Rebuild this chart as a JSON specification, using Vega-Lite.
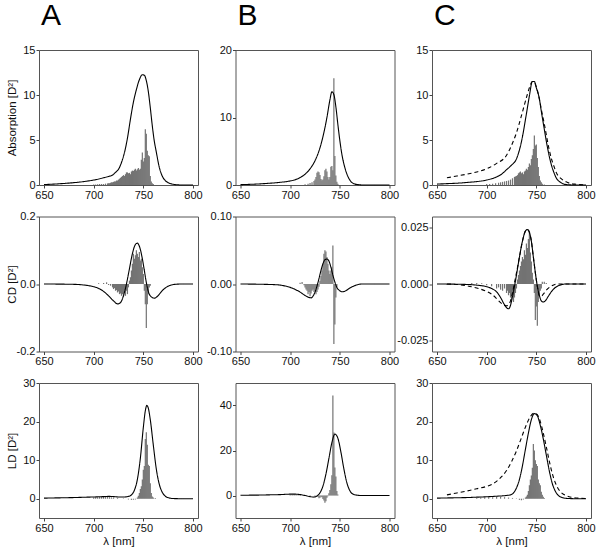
{
  "$schema": "https://vega.github.io/schema/vega-lite/v6.json",
  "background": "white",
  "padding": {"left": 5, "right": 5, "top": 0, "bottom": 0},
  "columns": 3,
  "bounds": "flush",
  "spacing": {"row": 31.5, "column": 37.5},
  "config": {
    "font": "Liberation Sans",
    "view": {"stroke": "#555", "strokeWidth": 1},
    "axis": {"grid": false, "domain": false, "ticks": true, "tickSize": 3, "tickColor": "#444", "labelFontSize": 11, "labelColor": "#111", "labelPadding": 1, "titleFontSize": 11.5, "titleFontWeight": "normal", "titleColor": "#111", "titlePadding": 2},
    "line": {"interpolate": "monotone", "color": "black", "strokeWidth": 1.1},
    "bar": {"color": "#737373", "size": 1.2},
    "title": {"fontSize": 30, "fontWeight": "normal", "anchor": "start", "frame": "group", "offset": 13, "baseline": "alphabetic", "dx": 2, "color": "black"}
  },
  "datasets": {
    "lines": [
      {"p":"A1","s":"calc","x":650,"y":0.05},{"p":"A1","s":"calc","x":660,"y":0.1},{"p":"A1","s":"calc","x":670,"y":0.17},{"p":"A1","s":"calc","x":680,"y":0.26},{"p":"A1","s":"calc","x":690,"y":0.38},{"p":"A1","s":"calc","x":700,"y":0.55},{"p":"A1","s":"calc","x":710,"y":0.8},{"p":"A1","s":"calc","x":715,"y":0.95},{"p":"A1","s":"calc","x":719,"y":1.1},{"p":"A1","s":"calc","x":722,"y":1.4},{"p":"A1","s":"calc","x":725,"y":1.75},{"p":"A1","s":"calc","x":728,"y":2.5},{"p":"A1","s":"calc","x":731,"y":3.6},{"p":"A1","s":"calc","x":734,"y":5.2},{"p":"A1","s":"calc","x":737,"y":7.3},{"p":"A1","s":"calc","x":740,"y":9.2},{"p":"A1","s":"calc","x":743,"y":10.6},{"p":"A1","s":"calc","x":746,"y":11.7},{"p":"A1","s":"calc","x":749,"y":12.25},{"p":"A1","s":"calc","x":751,"y":12.2},{"p":"A1","s":"calc","x":753,"y":11.6},{"p":"A1","s":"calc","x":755,"y":10.4},{"p":"A1","s":"calc","x":757,"y":8.6},{"p":"A1","s":"calc","x":759,"y":6.6},{"p":"A1","s":"calc","x":761,"y":4.9},{"p":"A1","s":"calc","x":763,"y":3.7},{"p":"A1","s":"calc","x":766,"y":2.0},{"p":"A1","s":"calc","x":769,"y":1.0},{"p":"A1","s":"calc","x":772,"y":0.5},{"p":"A1","s":"calc","x":775,"y":0.26},{"p":"A1","s":"calc","x":780,"y":0.08},{"p":"A1","s":"calc","x":785,"y":0.02},{"p":"A1","s":"calc","x":790,"y":0},{"p":"A1","s":"calc","x":800,"y":0},
      {"p":"B1","s":"calc","x":650,"y":0.05},{"p":"B1","s":"calc","x":660,"y":0.1},{"p":"B1","s":"calc","x":670,"y":0.17},{"p":"B1","s":"calc","x":680,"y":0.27},{"p":"B1","s":"calc","x":690,"y":0.4},{"p":"B1","s":"calc","x":700,"y":0.6},{"p":"B1","s":"calc","x":710,"y":1.1},{"p":"B1","s":"calc","x":715,"y":1.6},{"p":"B1","s":"calc","x":720,"y":2.4},{"p":"B1","s":"calc","x":725,"y":3.6},{"p":"B1","s":"calc","x":730,"y":5.5},{"p":"B1","s":"calc","x":734,"y":7.8},{"p":"B1","s":"calc","x":737,"y":10.0},{"p":"B1","s":"calc","x":740,"y":12.6},{"p":"B1","s":"calc","x":742,"y":13.8},{"p":"B1","s":"calc","x":744,"y":13.4},{"p":"B1","s":"calc","x":746,"y":11.6},{"p":"B1","s":"calc","x":748,"y":9.0},{"p":"B1","s":"calc","x":750,"y":6.6},{"p":"B1","s":"calc","x":752,"y":4.6},{"p":"B1","s":"calc","x":755,"y":2.6},{"p":"B1","s":"calc","x":758,"y":1.3},{"p":"B1","s":"calc","x":761,"y":0.55},{"p":"B1","s":"calc","x":765,"y":0.15},{"p":"B1","s":"calc","x":770,"y":0.03},{"p":"B1","s":"calc","x":775,"y":0},{"p":"B1","s":"calc","x":800,"y":0},
      {"p":"C1","s":"calc","x":650,"y":0.1},{"p":"C1","s":"calc","x":660,"y":0.15},{"p":"C1","s":"calc","x":670,"y":0.2},{"p":"C1","s":"calc","x":680,"y":0.28},{"p":"C1","s":"calc","x":690,"y":0.38},{"p":"C1","s":"calc","x":700,"y":0.55},{"p":"C1","s":"calc","x":710,"y":0.9},{"p":"C1","s":"calc","x":715,"y":1.2},{"p":"C1","s":"calc","x":720,"y":1.7},{"p":"C1","s":"calc","x":725,"y":2.2},{"p":"C1","s":"calc","x":730,"y":2.9},{"p":"C1","s":"calc","x":735,"y":4.8},{"p":"C1","s":"calc","x":740,"y":7.9},{"p":"C1","s":"calc","x":743,"y":9.9},{"p":"C1","s":"calc","x":746,"y":11.5},{"p":"C1","s":"calc","x":748,"y":11.5},{"p":"C1","s":"calc","x":750,"y":10.8},{"p":"C1","s":"calc","x":753,"y":9.6},{"p":"C1","s":"calc","x":755,"y":8.2},{"p":"C1","s":"calc","x":758,"y":6.2},{"p":"C1","s":"calc","x":760,"y":4.9},{"p":"C1","s":"calc","x":763,"y":3.2},{"p":"C1","s":"calc","x":765,"y":2.3},{"p":"C1","s":"calc","x":768,"y":1.3},{"p":"C1","s":"calc","x":770,"y":0.8},{"p":"C1","s":"calc","x":775,"y":0.25},{"p":"C1","s":"calc","x":780,"y":0.05},{"p":"C1","s":"calc","x":790,"y":0},{"p":"C1","s":"calc","x":800,"y":0},
      {"p":"C1","s":"exp","x":660,"y":0.8},{"p":"C1","s":"exp","x":670,"y":1.0},{"p":"C1","s":"exp","x":680,"y":1.2},{"p":"C1","s":"exp","x":690,"y":1.45},{"p":"C1","s":"exp","x":700,"y":1.8},{"p":"C1","s":"exp","x":710,"y":2.4},{"p":"C1","s":"exp","x":720,"y":3.3},{"p":"C1","s":"exp","x":725,"y":4.4},{"p":"C1","s":"exp","x":730,"y":5.8},{"p":"C1","s":"exp","x":735,"y":7.7},{"p":"C1","s":"exp","x":740,"y":9.7},{"p":"C1","s":"exp","x":743,"y":10.8},{"p":"C1","s":"exp","x":746,"y":11.5},{"p":"C1","s":"exp","x":748,"y":11.4},{"p":"C1","s":"exp","x":750,"y":10.9},{"p":"C1","s":"exp","x":753,"y":9.6},{"p":"C1","s":"exp","x":755,"y":8.4},{"p":"C1","s":"exp","x":758,"y":6.8},{"p":"C1","s":"exp","x":760,"y":5.6},{"p":"C1","s":"exp","x":763,"y":3.9},{"p":"C1","s":"exp","x":765,"y":3.0},{"p":"C1","s":"exp","x":768,"y":2.0},{"p":"C1","s":"exp","x":770,"y":1.4},{"p":"C1","s":"exp","x":775,"y":0.7},{"p":"C1","s":"exp","x":780,"y":0.35},{"p":"C1","s":"exp","x":785,"y":0.15},{"p":"C1","s":"exp","x":790,"y":0.08},{"p":"C1","s":"exp","x":800,"y":0.02},
      {"p":"A2","s":"calc","x":650,"y":0},{"p":"A2","s":"calc","x":680,"y":-0.001},{"p":"A2","s":"calc","x":690,"y":-0.003},{"p":"A2","s":"calc","x":700,"y":-0.008},{"p":"A2","s":"calc","x":705,"y":-0.013},{"p":"A2","s":"calc","x":710,"y":-0.022},{"p":"A2","s":"calc","x":715,"y":-0.035},{"p":"A2","s":"calc","x":720,"y":-0.05},{"p":"A2","s":"calc","x":724,"y":-0.059},{"p":"A2","s":"calc","x":727,"y":-0.055},{"p":"A2","s":"calc","x":730,"y":-0.035},{"p":"A2","s":"calc","x":733,"y":0},{"p":"A2","s":"calc","x":736,"y":0.045},{"p":"A2","s":"calc","x":739,"y":0.09},{"p":"A2","s":"calc","x":742,"y":0.117},{"p":"A2","s":"calc","x":744,"y":0.121},{"p":"A2","s":"calc","x":746,"y":0.112},{"p":"A2","s":"calc","x":749,"y":0.075},{"p":"A2","s":"calc","x":751,"y":0.04},{"p":"A2","s":"calc","x":753,"y":0.005},{"p":"A2","s":"calc","x":755,"y":-0.022},{"p":"A2","s":"calc","x":758,"y":-0.038},{"p":"A2","s":"calc","x":761,"y":-0.042},{"p":"A2","s":"calc","x":764,"y":-0.037},{"p":"A2","s":"calc","x":767,"y":-0.027},{"p":"A2","s":"calc","x":770,"y":-0.017},{"p":"A2","s":"calc","x":774,"y":-0.008},{"p":"A2","s":"calc","x":778,"y":-0.003},{"p":"A2","s":"calc","x":782,"y":-0.001},{"p":"A2","s":"calc","x":790,"y":0},{"p":"A2","s":"calc","x":800,"y":0},
      {"p":"B2","s":"calc","x":650,"y":0},{"p":"B2","s":"calc","x":685,"y":-0.001},{"p":"B2","s":"calc","x":695,"y":-0.003},{"p":"B2","s":"calc","x":700,"y":-0.005},{"p":"B2","s":"calc","x":705,"y":-0.008},{"p":"B2","s":"calc","x":710,"y":-0.012},{"p":"B2","s":"calc","x":715,"y":-0.017},{"p":"B2","s":"calc","x":719,"y":-0.02},{"p":"B2","s":"calc","x":721,"y":-0.0205},{"p":"B2","s":"calc","x":723,"y":-0.018},{"p":"B2","s":"calc","x":725,"y":-0.012},{"p":"B2","s":"calc","x":727,"y":-0.003},{"p":"B2","s":"calc","x":729,"y":0.008},{"p":"B2","s":"calc","x":731,"y":0.02},{"p":"B2","s":"calc","x":733,"y":0.03},{"p":"B2","s":"calc","x":735,"y":0.036},{"p":"B2","s":"calc","x":737,"y":0.037},{"p":"B2","s":"calc","x":739,"y":0.034},{"p":"B2","s":"calc","x":741,"y":0.025},{"p":"B2","s":"calc","x":743,"y":0.013},{"p":"B2","s":"calc","x":745,"y":0.003},{"p":"B2","s":"calc","x":747,"y":-0.005},{"p":"B2","s":"calc","x":750,"y":-0.01},{"p":"B2","s":"calc","x":753,"y":-0.0115},{"p":"B2","s":"calc","x":756,"y":-0.01},{"p":"B2","s":"calc","x":760,"y":-0.006},{"p":"B2","s":"calc","x":764,"y":-0.003},{"p":"B2","s":"calc","x":768,"y":-0.001},{"p":"B2","s":"calc","x":772,"y":0},{"p":"B2","s":"calc","x":800,"y":0},
      {"p":"C2","s":"calc","x":650,"y":0},{"p":"C2","s":"calc","x":680,"y":-0.0002},{"p":"C2","s":"calc","x":690,"y":-0.0005},{"p":"C2","s":"calc","x":700,"y":-0.0012},{"p":"C2","s":"calc","x":705,"y":-0.002},{"p":"C2","s":"calc","x":710,"y":-0.0035},{"p":"C2","s":"calc","x":714,"y":-0.006},{"p":"C2","s":"calc","x":717,"y":-0.0085},{"p":"C2","s":"calc","x":720,"y":-0.0105},{"p":"C2","s":"calc","x":722,"y":-0.011},{"p":"C2","s":"calc","x":724,"y":-0.0095},{"p":"C2","s":"calc","x":726,"y":-0.0055},{"p":"C2","s":"calc","x":728,"y":-0.001},{"p":"C2","s":"calc","x":730,"y":0.004},{"p":"C2","s":"calc","x":733,"y":0.012},{"p":"C2","s":"calc","x":736,"y":0.019},{"p":"C2","s":"calc","x":739,"y":0.0235},{"p":"C2","s":"calc","x":741,"y":0.0242},{"p":"C2","s":"calc","x":743,"y":0.023},{"p":"C2","s":"calc","x":745,"y":0.019},{"p":"C2","s":"calc","x":747,"y":0.012},{"p":"C2","s":"calc","x":749,"y":0.005},{"p":"C2","s":"calc","x":751,"y":-0.001},{"p":"C2","s":"calc","x":753,"y":-0.005},{"p":"C2","s":"calc","x":755,"y":-0.0075},{"p":"C2","s":"calc","x":757,"y":-0.008},{"p":"C2","s":"calc","x":759,"y":-0.0075},{"p":"C2","s":"calc","x":762,"y":-0.0055},{"p":"C2","s":"calc","x":765,"y":-0.0035},{"p":"C2","s":"calc","x":768,"y":-0.002},{"p":"C2","s":"calc","x":772,"y":-0.0008},{"p":"C2","s":"calc","x":776,"y":-0.0002},{"p":"C2","s":"calc","x":780,"y":0},{"p":"C2","s":"calc","x":800,"y":0},
      {"p":"C2","s":"exp","x":660,"y":0},{"p":"C2","s":"exp","x":670,"y":-0.0002},{"p":"C2","s":"exp","x":680,"y":-0.0008},{"p":"C2","s":"exp","x":690,"y":-0.0018},{"p":"C2","s":"exp","x":700,"y":-0.0033},{"p":"C2","s":"exp","x":705,"y":-0.0045},{"p":"C2","s":"exp","x":710,"y":-0.0065},{"p":"C2","s":"exp","x":714,"y":-0.0083},{"p":"C2","s":"exp","x":718,"y":-0.0095},{"p":"C2","s":"exp","x":720,"y":-0.0097},{"p":"C2","s":"exp","x":722,"y":-0.0092},{"p":"C2","s":"exp","x":724,"y":-0.0075},{"p":"C2","s":"exp","x":726,"y":-0.004},{"p":"C2","s":"exp","x":728,"y":0.0005},{"p":"C2","s":"exp","x":730,"y":0.005},{"p":"C2","s":"exp","x":733,"y":0.012},{"p":"C2","s":"exp","x":736,"y":0.019},{"p":"C2","s":"exp","x":739,"y":0.0235},{"p":"C2","s":"exp","x":741,"y":0.0242},{"p":"C2","s":"exp","x":743,"y":0.023},{"p":"C2","s":"exp","x":745,"y":0.019},{"p":"C2","s":"exp","x":747,"y":0.012},{"p":"C2","s":"exp","x":749,"y":0.005},{"p":"C2","s":"exp","x":751,"y":-0.001},{"p":"C2","s":"exp","x":753,"y":-0.0052},{"p":"C2","s":"exp","x":755,"y":-0.0055},{"p":"C2","s":"exp","x":757,"y":-0.0045},{"p":"C2","s":"exp","x":760,"y":-0.0028},{"p":"C2","s":"exp","x":764,"y":-0.0012},{"p":"C2","s":"exp","x":768,"y":-0.0003},{"p":"C2","s":"exp","x":772,"y":0},{"p":"C2","s":"exp","x":800,"y":0},
      {"p":"A3","s":"calc","x":650,"y":0.15},{"p":"A3","s":"calc","x":660,"y":0.2},{"p":"A3","s":"calc","x":670,"y":0.25},{"p":"A3","s":"calc","x":680,"y":0.3},{"p":"A3","s":"calc","x":690,"y":0.38},{"p":"A3","s":"calc","x":700,"y":0.45},{"p":"A3","s":"calc","x":710,"y":0.55},{"p":"A3","s":"calc","x":715,"y":0.6},{"p":"A3","s":"calc","x":720,"y":0.55},{"p":"A3","s":"calc","x":725,"y":0.45},{"p":"A3","s":"calc","x":730,"y":0.45},{"p":"A3","s":"calc","x":735,"y":0.6},{"p":"A3","s":"calc","x":738,"y":1.0},{"p":"A3","s":"calc","x":741,"y":2.2},{"p":"A3","s":"calc","x":744,"y":5.0},{"p":"A3","s":"calc","x":747,"y":10.5},{"p":"A3","s":"calc","x":750,"y":18.5},{"p":"A3","s":"calc","x":752,"y":22.8},{"p":"A3","s":"calc","x":753.5,"y":24.2},{"p":"A3","s":"calc","x":755,"y":23.5},{"p":"A3","s":"calc","x":757,"y":20.5},{"p":"A3","s":"calc","x":760,"y":14},{"p":"A3","s":"calc","x":763,"y":7.8},{"p":"A3","s":"calc","x":766,"y":3.8},{"p":"A3","s":"calc","x":769,"y":1.7},{"p":"A3","s":"calc","x":772,"y":0.7},{"p":"A3","s":"calc","x":776,"y":0.2},{"p":"A3","s":"calc","x":780,"y":0.05},{"p":"A3","s":"calc","x":790,"y":0},{"p":"A3","s":"calc","x":800,"y":0},
      {"p":"B3","s":"calc","x":650,"y":0.1},{"p":"B3","s":"calc","x":660,"y":0.15},{"p":"B3","s":"calc","x":670,"y":0.2},{"p":"B3","s":"calc","x":680,"y":0.3},{"p":"B3","s":"calc","x":690,"y":0.4},{"p":"B3","s":"calc","x":700,"y":0.6},{"p":"B3","s":"calc","x":705,"y":0.6},{"p":"B3","s":"calc","x":710,"y":0.4},{"p":"B3","s":"calc","x":715,"y":0.0},{"p":"B3","s":"calc","x":720,"y":-0.5},{"p":"B3","s":"calc","x":724,"y":-0.7},{"p":"B3","s":"calc","x":727,"y":-0.2},{"p":"B3","s":"calc","x":730,"y":1.2},{"p":"B3","s":"calc","x":733,"y":4.2},{"p":"B3","s":"calc","x":736,"y":9.5},{"p":"B3","s":"calc","x":739,"y":16.5},{"p":"B3","s":"calc","x":742,"y":23.5},{"p":"B3","s":"calc","x":745,"y":27.3},{"p":"B3","s":"calc","x":748,"y":25.5},{"p":"B3","s":"calc","x":751,"y":19.5},{"p":"B3","s":"calc","x":754,"y":12.0},{"p":"B3","s":"calc","x":757,"y":5.8},{"p":"B3","s":"calc","x":760,"y":2.2},{"p":"B3","s":"calc","x":763,"y":0.7},{"p":"B3","s":"calc","x":767,"y":0.15},{"p":"B3","s":"calc","x":772,"y":0},{"p":"B3","s":"calc","x":800,"y":0},
      {"p":"C3","s":"calc","x":650,"y":0.15},{"p":"C3","s":"calc","x":660,"y":0.2},{"p":"C3","s":"calc","x":670,"y":0.25},{"p":"C3","s":"calc","x":680,"y":0.3},{"p":"C3","s":"calc","x":690,"y":0.4},{"p":"C3","s":"calc","x":700,"y":0.5},{"p":"C3","s":"calc","x":710,"y":0.65},{"p":"C3","s":"calc","x":720,"y":0.85},{"p":"C3","s":"calc","x":724,"y":1.0},{"p":"C3","s":"calc","x":727,"y":1.5},{"p":"C3","s":"calc","x":730,"y":2.8},{"p":"C3","s":"calc","x":733,"y":5.0},{"p":"C3","s":"calc","x":736,"y":8.5},{"p":"C3","s":"calc","x":739,"y":12.8},{"p":"C3","s":"calc","x":742,"y":17.0},{"p":"C3","s":"calc","x":745,"y":20.5},{"p":"C3","s":"calc","x":748,"y":22.1},{"p":"C3","s":"calc","x":751,"y":21.5},{"p":"C3","s":"calc","x":754,"y":19.0},{"p":"C3","s":"calc","x":757,"y":15.5},{"p":"C3","s":"calc","x":760,"y":11.4},{"p":"C3","s":"calc","x":763,"y":7.3},{"p":"C3","s":"calc","x":766,"y":4.0},{"p":"C3","s":"calc","x":769,"y":2.0},{"p":"C3","s":"calc","x":772,"y":0.9},{"p":"C3","s":"calc","x":776,"y":0.3},{"p":"C3","s":"calc","x":780,"y":0.1},{"p":"C3","s":"calc","x":790,"y":0},{"p":"C3","s":"calc","x":800,"y":0},
      {"p":"C3","s":"exp","x":660,"y":1.0},{"p":"C3","s":"exp","x":670,"y":1.5},{"p":"C3","s":"exp","x":680,"y":2.0},{"p":"C3","s":"exp","x":690,"y":2.6},{"p":"C3","s":"exp","x":700,"y":3.2},{"p":"C3","s":"exp","x":705,"y":3.7},{"p":"C3","s":"exp","x":710,"y":4.5},{"p":"C3","s":"exp","x":715,"y":5.7},{"p":"C3","s":"exp","x":720,"y":7.3},{"p":"C3","s":"exp","x":725,"y":9.6},{"p":"C3","s":"exp","x":730,"y":12.4},{"p":"C3","s":"exp","x":735,"y":15.8},{"p":"C3","s":"exp","x":740,"y":19.2},{"p":"C3","s":"exp","x":744,"y":21.3},{"p":"C3","s":"exp","x":748,"y":22.2},{"p":"C3","s":"exp","x":751,"y":21.8},{"p":"C3","s":"exp","x":754,"y":20.0},{"p":"C3","s":"exp","x":757,"y":17.0},{"p":"C3","s":"exp","x":760,"y":13.5},{"p":"C3","s":"exp","x":763,"y":9.8},{"p":"C3","s":"exp","x":766,"y":6.6},{"p":"C3","s":"exp","x":769,"y":4.2},{"p":"C3","s":"exp","x":772,"y":2.6},{"p":"C3","s":"exp","x":776,"y":1.4},{"p":"C3","s":"exp","x":780,"y":0.8},{"p":"C3","s":"exp","x":785,"y":0.4},{"p":"C3","s":"exp","x":790,"y":0.2},{"p":"C3","s":"exp","x":800,"y":0.05}
    ],
    "sticks": [
      {"p":"A1","x":700,"y":0.05},{"p":"A1","x":702,"y":0.06},{"p":"A1","x":704,"y":0.08},{"p":"A1","x":706,"y":0.1},{"p":"A1","x":708,"y":0.1},{"p":"A1","x":710,"y":0.12},{"p":"A1","x":712,"y":0.15},{"p":"A1","x":714,"y":0.18},{"p":"A1","x":715,"y":0.2},{"p":"A1","x":716,"y":0.2},{"p":"A1","x":717,"y":0.25},{"p":"A1","x":718,"y":0.3},{"p":"A1","x":719,"y":0.3},{"p":"A1","x":720,"y":0.35},{"p":"A1","x":721,"y":0.4},{"p":"A1","x":722,"y":0.4},{"p":"A1","x":723,"y":0.5},{"p":"A1","x":724,"y":0.5},{"p":"A1","x":725,"y":0.6},{"p":"A1","x":726,"y":0.7},{"p":"A1","x":727,"y":0.8},{"p":"A1","x":728,"y":0.9},{"p":"A1","x":729,"y":1.0},{"p":"A1","x":730,"y":1.1},{"p":"A1","x":731,"y":1.0},{"p":"A1","x":732,"y":1.2},{"p":"A1","x":733,"y":1.4},{"p":"A1","x":734,"y":1.4},{"p":"A1","x":735,"y":1.3},{"p":"A1","x":736,"y":1.35},{"p":"A1","x":737,"y":1.2},{"p":"A1","x":738,"y":1.5},{"p":"A1","x":739,"y":1.6},{"p":"A1","x":740,"y":1.55},{"p":"A1","x":741,"y":1.7},{"p":"A1","x":742,"y":1.8},{"p":"A1","x":743,"y":1.6},{"p":"A1","x":744,"y":1.75},{"p":"A1","x":745,"y":1.9},{"p":"A1","x":746,"y":1.7},{"p":"A1","x":747,"y":1.8},{"p":"A1","x":748,"y":2.8},{"p":"A1","x":749,"y":3.6},{"p":"A1","x":750,"y":2.6},{"p":"A1","x":751,"y":3.0},{"p":"A1","x":752,"y":6.2},{"p":"A1","x":753,"y":5.7},{"p":"A1","x":754,"y":3.8},{"p":"A1","x":755,"y":3.3},{"p":"A1","x":756,"y":3.2},{"p":"A1","x":757,"y":1.0},{"p":"A1","x":758,"y":0.4},{"p":"A1","x":759,"y":0.2},{"p":"A1","x":760,"y":0.1},
      {"p":"B1","x":715,"y":0.1},{"p":"B1","x":718,"y":0.2},{"p":"B1","x":720,"y":0.3},{"p":"B1","x":722,"y":0.4},{"p":"B1","x":724,"y":0.6},{"p":"B1","x":725,"y":0.8},{"p":"B1","x":726,"y":1.2},{"p":"B1","x":727,"y":1.8},{"p":"B1","x":728,"y":2.0},{"p":"B1","x":729,"y":1.9},{"p":"B1","x":730,"y":1.5},{"p":"B1","x":731,"y":0.9},{"p":"B1","x":732,"y":0.7},{"p":"B1","x":733,"y":0.8},{"p":"B1","x":734,"y":1.3},{"p":"B1","x":735,"y":2.2},{"p":"B1","x":736,"y":2.4},{"p":"B1","x":737,"y":2.0},{"p":"B1","x":738,"y":1.2},{"p":"B1","x":739,"y":0.8},{"p":"B1","x":740,"y":1.2},{"p":"B1","x":741,"y":2.7},{"p":"B1","x":742,"y":2.8},{"p":"B1","x":743,"y":2.2},{"p":"B1","x":744,"y":15.8},{"p":"B1","x":745,"y":4.3},{"p":"B1","x":746,"y":1.4},{"p":"B1","x":747,"y":0.5},{"p":"B1","x":748,"y":0.2},
      {"p":"C1","x":700,"y":0.1},{"p":"C1","x":703,"y":0.12},{"p":"C1","x":706,"y":0.15},{"p":"C1","x":709,"y":0.2},{"p":"C1","x":712,"y":0.25},{"p":"C1","x":714,"y":0.3},{"p":"C1","x":716,"y":0.35},{"p":"C1","x":718,"y":0.4},{"p":"C1","x":720,"y":0.45},{"p":"C1","x":722,"y":0.5},{"p":"C1","x":724,"y":0.6},{"p":"C1","x":726,"y":0.75},{"p":"C1","x":728,"y":0.9},{"p":"C1","x":729,"y":0.95},{"p":"C1","x":730,"y":1.0},{"p":"C1","x":731,"y":1.1},{"p":"C1","x":732,"y":1.3},{"p":"C1","x":733,"y":1.4},{"p":"C1","x":734,"y":1.5},{"p":"C1","x":735,"y":1.3},{"p":"C1","x":736,"y":1.4},{"p":"C1","x":737,"y":1.2},{"p":"C1","x":738,"y":1.5},{"p":"C1","x":739,"y":1.6},{"p":"C1","x":740,"y":1.8},{"p":"C1","x":741,"y":1.7},{"p":"C1","x":742,"y":2.0},{"p":"C1","x":743,"y":2.4},{"p":"C1","x":744,"y":2.2},{"p":"C1","x":745,"y":2.9},{"p":"C1","x":746,"y":3.3},{"p":"C1","x":747,"y":4.0},{"p":"C1","x":748,"y":5.5},{"p":"C1","x":749,"y":4.4},{"p":"C1","x":750,"y":4.5},{"p":"C1","x":751,"y":3.0},{"p":"C1","x":752,"y":2.0},{"p":"C1","x":753,"y":1.0},{"p":"C1","x":754,"y":0.5},{"p":"C1","x":755,"y":0.3},{"p":"C1","x":756,"y":0.15},{"p":"C1","x":758,"y":0.05},
      {"p":"A2","x":705,"y":0.002},{"p":"A2","x":710,"y":0.003},{"p":"A2","x":713,"y":0.005},{"p":"A2","x":715,"y":-0.003},{"p":"A2","x":717,"y":-0.005},{"p":"A2","x":719,"y":-0.01},{"p":"A2","x":720,"y":-0.015},{"p":"A2","x":721,"y":-0.012},{"p":"A2","x":722,"y":-0.02},{"p":"A2","x":723,"y":-0.018},{"p":"A2","x":724,"y":-0.025},{"p":"A2","x":725,"y":-0.022},{"p":"A2","x":726,"y":-0.03},{"p":"A2","x":727,"y":-0.028},{"p":"A2","x":728,"y":-0.035},{"p":"A2","x":729,"y":-0.03},{"p":"A2","x":730,"y":-0.038},{"p":"A2","x":731,"y":-0.025},{"p":"A2","x":732,"y":-0.035},{"p":"A2","x":733,"y":-0.02},{"p":"A2","x":734,"y":-0.03},{"p":"A2","x":735,"y":-0.01},{"p":"A2","x":736,"y":0.01},{"p":"A2","x":737,"y":0.02},{"p":"A2","x":738,"y":0.04},{"p":"A2","x":739,"y":0.06},{"p":"A2","x":740,"y":0.09},{"p":"A2","x":741,"y":0.075},{"p":"A2","x":742,"y":0.085},{"p":"A2","x":743,"y":0.1},{"p":"A2","x":744,"y":0.09},{"p":"A2","x":745,"y":0.08},{"p":"A2","x":746,"y":0.095},{"p":"A2","x":747,"y":0.07},{"p":"A2","x":748,"y":0.075},{"p":"A2","x":749,"y":0.05},{"p":"A2","x":750,"y":0.03},{"p":"A2","x":751,"y":-0.02},{"p":"A2","x":752,"y":-0.06},{"p":"A2","x":753,"y":-0.13},{"p":"A2","x":754,"y":-0.06},{"p":"A2","x":755,"y":-0.03},{"p":"A2","x":756,"y":-0.01},{"p":"A2","x":757,"y":-0.005},
      {"p":"B2","x":710,"y":0.002},{"p":"B2","x":712,"y":0.003},{"p":"B2","x":714,"y":-0.002},{"p":"B2","x":715,"y":-0.005},{"p":"B2","x":716,"y":-0.008},{"p":"B2","x":717,"y":-0.01},{"p":"B2","x":718,"y":-0.015},{"p":"B2","x":719,"y":-0.012},{"p":"B2","x":720,"y":-0.018},{"p":"B2","x":721,"y":-0.014},{"p":"B2","x":722,"y":-0.01},{"p":"B2","x":723,"y":-0.008},{"p":"B2","x":724,"y":-0.012},{"p":"B2","x":725,"y":-0.01},{"p":"B2","x":726,"y":-0.015},{"p":"B2","x":727,"y":-0.012},{"p":"B2","x":728,"y":-0.008},{"p":"B2","x":729,"y":-0.004},{"p":"B2","x":730,"y":0.005},{"p":"B2","x":731,"y":0.012},{"p":"B2","x":732,"y":0.02},{"p":"B2","x":733,"y":0.03},{"p":"B2","x":734,"y":0.045},{"p":"B2","x":735,"y":0.05},{"p":"B2","x":736,"y":0.048},{"p":"B2","x":737,"y":0.04},{"p":"B2","x":738,"y":0.03},{"p":"B2","x":739,"y":0.02},{"p":"B2","x":740,"y":0.015},{"p":"B2","x":741,"y":0.02},{"p":"B2","x":742,"y":0.025},{"p":"B2","x":743,"y":0.057},{"p":"B2","x":744,"y":-0.089},{"p":"B2","x":745,"y":-0.06},{"p":"B2","x":746,"y":-0.02},{"p":"B2","x":747,"y":-0.005},
      {"p":"C2","x":685,"y":0.0005},{"p":"C2","x":690,"y":0.0005},{"p":"C2","x":695,"y":0.0003},{"p":"C2","x":700,"y":-0.0005},{"p":"C2","x":705,"y":-0.001},{"p":"C2","x":710,"y":-0.002},{"p":"C2","x":712,"y":-0.0015},{"p":"C2","x":714,"y":-0.0025},{"p":"C2","x":716,"y":-0.003},{"p":"C2","x":718,"y":-0.002},{"p":"C2","x":720,"y":-0.004},{"p":"C2","x":721,"y":-0.003},{"p":"C2","x":722,"y":-0.005},{"p":"C2","x":723,"y":-0.004},{"p":"C2","x":724,"y":-0.006},{"p":"C2","x":725,"y":-0.007},{"p":"C2","x":726,"y":-0.005},{"p":"C2","x":727,"y":-0.008},{"p":"C2","x":728,"y":-0.006},{"p":"C2","x":729,"y":-0.004},{"p":"C2","x":730,"y":-0.002},{"p":"C2","x":731,"y":0.002},{"p":"C2","x":732,"y":0.004},{"p":"C2","x":733,"y":0.006},{"p":"C2","x":734,"y":0.008},{"p":"C2","x":735,"y":0.01},{"p":"C2","x":736,"y":0.012},{"p":"C2","x":737,"y":0.011},{"p":"C2","x":738,"y":0.015},{"p":"C2","x":739,"y":0.013},{"p":"C2","x":740,"y":0.018},{"p":"C2","x":741,"y":0.016},{"p":"C2","x":742,"y":0.02},{"p":"C2","x":743,"y":0.023},{"p":"C2","x":744,"y":0.014},{"p":"C2","x":745,"y":0.01},{"p":"C2","x":746,"y":0.005},{"p":"C2","x":747,"y":0.002},{"p":"C2","x":748,"y":-0.004},{"p":"C2","x":749,"y":-0.016},{"p":"C2","x":750,"y":-0.01},{"p":"C2","x":751,"y":-0.0185},{"p":"C2","x":752,"y":-0.008},{"p":"C2","x":753,"y":-0.005},{"p":"C2","x":754,"y":-0.003},{"p":"C2","x":755,"y":-0.002},{"p":"C2","x":756,"y":0.001},{"p":"C2","x":758,"y":0.001},{"p":"C2","x":760,"y":0.0005},
      {"p":"A3","x":700,"y":0.3},{"p":"A3","x":702,"y":0.35},{"p":"A3","x":704,"y":0.4},{"p":"A3","x":706,"y":0.45},{"p":"A3","x":708,"y":0.5},{"p":"A3","x":710,"y":0.5},{"p":"A3","x":712,"y":0.5},{"p":"A3","x":714,"y":0.45},{"p":"A3","x":716,"y":0.4},{"p":"A3","x":718,"y":0.35},{"p":"A3","x":720,"y":0.3},{"p":"A3","x":724,"y":0.2},{"p":"A3","x":730,"y":0.1},{"p":"A3","x":735,"y":-0.2},{"p":"A3","x":738,"y":-0.3},{"p":"A3","x":740,"y":-0.3},{"p":"A3","x":742,"y":-0.2},{"p":"A3","x":744,"y":0.3},{"p":"A3","x":745,"y":0.8},{"p":"A3","x":746,"y":1.5},{"p":"A3","x":747,"y":2.5},{"p":"A3","x":748,"y":3.2},{"p":"A3","x":749,"y":5.0},{"p":"A3","x":750,"y":7.5},{"p":"A3","x":751,"y":8.5},{"p":"A3","x":752,"y":15.5},{"p":"A3","x":753,"y":17.2},{"p":"A3","x":754,"y":14.0},{"p":"A3","x":755,"y":8.8},{"p":"A3","x":756,"y":8.5},{"p":"A3","x":757,"y":4.0},{"p":"A3","x":758,"y":1.5},{"p":"A3","x":759,"y":0.6},{"p":"A3","x":760,"y":0.3},{"p":"A3","x":762,"y":0.2},
      {"p":"B3","x":700,"y":0.3},{"p":"B3","x":702,"y":0.3},{"p":"B3","x":704,"y":0.4},{"p":"B3","x":706,"y":0.3},{"p":"B3","x":708,"y":0.3},{"p":"B3","x":710,"y":0.2},{"p":"B3","x":720,"y":-0.2},{"p":"B3","x":725,"y":-0.3},{"p":"B3","x":728,"y":-0.5},{"p":"B3","x":729,"y":-1.2},{"p":"B3","x":730,"y":-1.0},{"p":"B3","x":731,"y":-0.5},{"p":"B3","x":732,"y":-0.8},{"p":"B3","x":733,"y":-1.5},{"p":"B3","x":734,"y":-2.2},{"p":"B3","x":735,"y":-3.2},{"p":"B3","x":736,"y":-2.5},{"p":"B3","x":737,"y":-1.0},{"p":"B3","x":738,"y":-0.3},{"p":"B3","x":739,"y":1.0},{"p":"B3","x":740,"y":2.5},{"p":"B3","x":741,"y":5.0},{"p":"B3","x":742,"y":9.0},{"p":"B3","x":743,"y":44.5},{"p":"B3","x":744,"y":28.0},{"p":"B3","x":745,"y":12.5},{"p":"B3","x":746,"y":8.5},{"p":"B3","x":747,"y":2.0},{"p":"B3","x":748,"y":0.5},
      {"p":"C3","x":690,"y":0.2},{"p":"C3","x":694,"y":0.3},{"p":"C3","x":698,"y":0.3},{"p":"C3","x":702,"y":0.4},{"p":"C3","x":706,"y":0.4},{"p":"C3","x":710,"y":0.5},{"p":"C3","x":714,"y":0.5},{"p":"C3","x":718,"y":0.4},{"p":"C3","x":722,"y":0.3},{"p":"C3","x":726,"y":0.2},{"p":"C3","x":730,"y":0.1},{"p":"C3","x":733,"y":-0.3},{"p":"C3","x":735,"y":-0.4},{"p":"C3","x":737,"y":-0.2},{"p":"C3","x":739,"y":0.3},{"p":"C3","x":740,"y":0.6},{"p":"C3","x":741,"y":1.0},{"p":"C3","x":742,"y":2.0},{"p":"C3","x":743,"y":3.5},{"p":"C3","x":744,"y":5.0},{"p":"C3","x":745,"y":6.0},{"p":"C3","x":746,"y":8.0},{"p":"C3","x":747,"y":14.2},{"p":"C3","x":748,"y":12.5},{"p":"C3","x":749,"y":10.0},{"p":"C3","x":750,"y":9.0},{"p":"C3","x":751,"y":8.5},{"p":"C3","x":752,"y":5.0},{"p":"C3","x":753,"y":4.0},{"p":"C3","x":754,"y":3.5},{"p":"C3","x":755,"y":1.8},{"p":"C3","x":756,"y":1.0},{"p":"C3","x":757,"y":0.5},{"p":"C3","x":758,"y":0.2}
    ]
  },
  "concat": [
    {
      "width": 159, "height": 135,
      "title": {"text": "A"},
      "layer": [
        {"data": {"name": "sticks"}, "transform": [{"filter": "datum.p === 'A1'"}], "mark": "bar",
         "encoding": {"x": {"field": "x", "type": "quantitative", "scale": {"domain": [650, 800], "nice": false}, "axis": {"values": [650, 700, 750, 800], "title": null}},
                      "y": {"field": "y", "type": "quantitative", "scale": {"domain": [0, 15], "nice": false}, "axis": {"values": [0, 5, 10, 15], "title": "Absorption [D²]", "titleX": -22}}}},
        {"data": {"name": "lines"}, "transform": [{"filter": "datum.p === 'A1'"}], "mark": "line",
         "encoding": {"x": {"field": "x", "type": "quantitative"}, "y": {"field": "y", "type": "quantitative"},
                      "strokeDash": {"field": "s", "type": "nominal", "scale": {"domain": ["calc", "exp"], "range": [[1, 0], [4, 3]]}, "legend": null}}}
      ]
    },
    {
      "width": 159, "height": 135,
      "title": {"text": "B"},
      "layer": [
        {"data": {"name": "sticks"}, "transform": [{"filter": "datum.p === 'B1'"}], "mark": "bar",
         "encoding": {"x": {"field": "x", "type": "quantitative", "scale": {"domain": [650, 800], "nice": false}, "axis": {"values": [650, 700, 750, 800], "title": null}},
                      "y": {"field": "y", "type": "quantitative", "scale": {"domain": [0, 20], "nice": false}, "axis": {"values": [0, 10, 20], "title": null}}}},
        {"data": {"name": "lines"}, "transform": [{"filter": "datum.p === 'B1'"}], "mark": "line",
         "encoding": {"x": {"field": "x", "type": "quantitative"}, "y": {"field": "y", "type": "quantitative"},
                      "strokeDash": {"field": "s", "type": "nominal", "scale": {"domain": ["calc", "exp"], "range": [[1, 0], [4, 3]]}, "legend": null}}}
      ]
    },
    {
      "width": 159, "height": 135,
      "title": {"text": "C"},
      "layer": [
        {"data": {"name": "sticks"}, "transform": [{"filter": "datum.p === 'C1'"}], "mark": "bar",
         "encoding": {"x": {"field": "x", "type": "quantitative", "scale": {"domain": [650, 800], "nice": false}, "axis": {"values": [650, 700, 750, 800], "title": null}},
                      "y": {"field": "y", "type": "quantitative", "scale": {"domain": [0, 15], "nice": false}, "axis": {"values": [0, 5, 10, 15], "title": null}}}},
        {"data": {"name": "lines"}, "transform": [{"filter": "datum.p === 'C1'"}], "mark": "line",
         "encoding": {"x": {"field": "x", "type": "quantitative"}, "y": {"field": "y", "type": "quantitative"},
                      "strokeDash": {"field": "s", "type": "nominal", "scale": {"domain": ["calc", "exp"], "range": [[1, 0], [4, 3]]}, "legend": null}}}
      ]
    },
    {
      "width": 159, "height": 135,
      "layer": [
        {"data": {"name": "sticks"}, "transform": [{"filter": "datum.p === 'A2'"}], "mark": "bar",
         "encoding": {"x": {"field": "x", "type": "quantitative", "scale": {"domain": [650, 800], "nice": false}, "axis": {"values": [650, 700, 750, 800], "title": null}},
                      "y": {"field": "y", "type": "quantitative", "scale": {"domain": [-0.2, 0.2], "nice": false}, "axis": {"values": [-0.2, -0.1, 0, 0.1, 0.2], "format": ".1f", "labelExpr": "replace(datum.label, '−', '-')", "title": "CD [D²]", "titleX": -22}}}},
        {"data": {"name": "lines"}, "transform": [{"filter": "datum.p === 'A2'"}], "mark": "line",
         "encoding": {"x": {"field": "x", "type": "quantitative"}, "y": {"field": "y", "type": "quantitative"},
                      "strokeDash": {"field": "s", "type": "nominal", "scale": {"domain": ["calc", "exp"], "range": [[1, 0], [4, 3]]}, "legend": null}}}
      ]
    },
    {
      "width": 159, "height": 135,
      "layer": [
        {"data": {"name": "sticks"}, "transform": [{"filter": "datum.p === 'B2'"}], "mark": "bar",
         "encoding": {"x": {"field": "x", "type": "quantitative", "scale": {"domain": [650, 800], "nice": false}, "axis": {"values": [650, 700, 750, 800], "title": null}},
                      "y": {"field": "y", "type": "quantitative", "scale": {"domain": [-0.1, 0.1], "nice": false}, "axis": {"values": [-0.1, -0.05, 0, 0.05, 0.1], "format": ".2f", "labelExpr": "replace(datum.label, '−', '-')", "title": null}}}},
        {"data": {"name": "lines"}, "transform": [{"filter": "datum.p === 'B2'"}], "mark": "line",
         "encoding": {"x": {"field": "x", "type": "quantitative"}, "y": {"field": "y", "type": "quantitative"},
                      "strokeDash": {"field": "s", "type": "nominal", "scale": {"domain": ["calc", "exp"], "range": [[1, 0], [4, 3]]}, "legend": null}}}
      ]
    },
    {
      "width": 159, "height": 135,
      "layer": [
        {"data": {"name": "sticks"}, "transform": [{"filter": "datum.p === 'C2'"}], "mark": "bar",
         "encoding": {"x": {"field": "x", "type": "quantitative", "scale": {"domain": [650, 800], "nice": false}, "axis": {"values": [650, 700, 750, 800], "title": null}},
                      "y": {"field": "y", "type": "quantitative", "scale": {"domain": [-0.03, 0.03], "nice": false}, "axis": {"values": [-0.025, 0, 0.025], "format": ".3f", "labelExpr": "replace(datum.label, '−', '-')", "title": null}}}},
        {"data": {"name": "lines"}, "transform": [{"filter": "datum.p === 'C2'"}], "mark": "line",
         "encoding": {"x": {"field": "x", "type": "quantitative"}, "y": {"field": "y", "type": "quantitative"},
                      "strokeDash": {"field": "s", "type": "nominal", "scale": {"domain": ["calc", "exp"], "range": [[1, 0], [4, 3]]}, "legend": null}}}
      ]
    },
    {
      "width": 159, "height": 135,
      "layer": [
        {"data": {"name": "sticks"}, "transform": [{"filter": "datum.p === 'A3'"}], "mark": "bar",
         "encoding": {"x": {"field": "x", "type": "quantitative", "scale": {"domain": [650, 800], "nice": false}, "axis": {"values": [650, 700, 750, 800], "title": "λ [nm]"}},
                      "y": {"field": "y", "type": "quantitative", "scale": {"domain": [-5, 30], "nice": false}, "axis": {"values": [0, 10, 20, 30], "title": "LD [D²]", "titleX": -22}}}},
        {"data": {"name": "lines"}, "transform": [{"filter": "datum.p === 'A3'"}], "mark": "line",
         "encoding": {"x": {"field": "x", "type": "quantitative"}, "y": {"field": "y", "type": "quantitative"},
                      "strokeDash": {"field": "s", "type": "nominal", "scale": {"domain": ["calc", "exp"], "range": [[1, 0], [4, 3]]}, "legend": null}}}
      ]
    },
    {
      "width": 159, "height": 135,
      "layer": [
        {"data": {"name": "sticks"}, "transform": [{"filter": "datum.p === 'B3'"}], "mark": "bar",
         "encoding": {"x": {"field": "x", "type": "quantitative", "scale": {"domain": [650, 800], "nice": false}, "axis": {"values": [650, 700, 750, 800], "title": "λ [nm]"}},
                      "y": {"field": "y", "type": "quantitative", "scale": {"domain": [-10, 50], "nice": false}, "axis": {"values": [0, 20, 40], "title": null}}}},
        {"data": {"name": "lines"}, "transform": [{"filter": "datum.p === 'B3'"}], "mark": "line",
         "encoding": {"x": {"field": "x", "type": "quantitative"}, "y": {"field": "y", "type": "quantitative"},
                      "strokeDash": {"field": "s", "type": "nominal", "scale": {"domain": ["calc", "exp"], "range": [[1, 0], [4, 3]]}, "legend": null}}}
      ]
    },
    {
      "width": 159, "height": 135,
      "layer": [
        {"data": {"name": "sticks"}, "transform": [{"filter": "datum.p === 'C3'"}], "mark": "bar",
         "encoding": {"x": {"field": "x", "type": "quantitative", "scale": {"domain": [650, 800], "nice": false}, "axis": {"values": [650, 700, 750, 800], "title": "λ [nm]"}},
                      "y": {"field": "y", "type": "quantitative", "scale": {"domain": [-5, 30], "nice": false}, "axis": {"values": [0, 10, 20, 30], "title": null}}}},
        {"data": {"name": "lines"}, "transform": [{"filter": "datum.p === 'C3'"}], "mark": "line",
         "encoding": {"x": {"field": "x", "type": "quantitative"}, "y": {"field": "y", "type": "quantitative"},
                      "strokeDash": {"field": "s", "type": "nominal", "scale": {"domain": ["calc", "exp"], "range": [[1, 0], [4, 3]]}, "legend": null}}}
      ]
    }
  ]
}
